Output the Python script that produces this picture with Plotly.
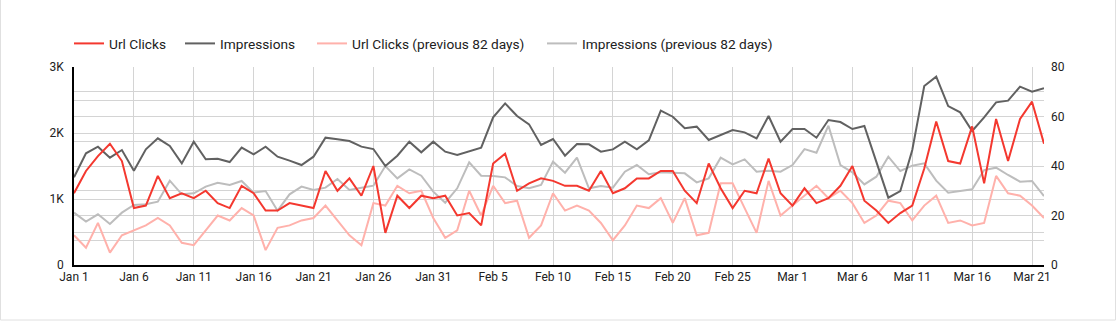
import pandas as pd
import plotly.graph_objects as go

# 82 daily points, Jan 1 – Mar 22 2024
dates = pd.date_range("2024-01-01", periods=82, freq="D")

url_clicks = [
    29, 38, 44, 49, 42, 23, 24, 36, 27, 29, 27, 30, 25, 23, 32, 29, 22,
    22, 25, 24, 23, 38, 30, 35, 28, 40, 13, 28, 23, 28, 27, 28, 20,
    21, 16, 41, 45, 30, 33, 35, 34, 32, 32, 30, 38, 29, 31, 35, 35,
    38, 38, 30, 25, 41, 31, 23, 30, 29, 43, 29, 24, 31, 25, 27, 32,
    40, 26, 22, 17, 21, 24, 39, 58, 42, 41, 56, 33, 59, 42, 59, 66, 49,
]

impressions = [
    1328, 1692, 1793, 1626, 1742, 1429, 1752, 1919, 1803, 1540, 1869, 1601, 1611, 1560, 1778, 1677, 1793,
    1641, 1581, 1515, 1641, 1929, 1904, 1879, 1793, 1757, 1500, 1656, 1869, 1707, 1869, 1717, 1667,
    1717, 1778, 2237, 2449, 2257, 2131, 1818, 1909, 1656, 1833, 1828, 1717, 1752, 1869, 1752, 1890,
    2338, 2247, 2071, 2096, 1894, 1970, 2045, 2010, 1919, 2257, 1869, 2060, 2060, 1929, 2197, 2166,
    2060, 2106, 1566, 1020, 1121, 1742, 2712, 2853, 2409, 2313, 2030, 2237, 2464, 2490, 2702, 2626, 2677,
]

url_clicks_prev = [
    12, 7, 17, 5, 12, 14, 16, 19, 16, 9, 8, 14, 20, 18, 23, 20, 6,
    15, 16, 18, 19, 24, 18, 12, 8, 25, 24, 32, 29, 30, 19, 11, 14,
    30, 20, 32, 25, 26, 11, 16, 29, 22, 24, 22, 17, 10, 16, 24, 23,
    27, 17, 27, 12, 13, 33, 33, 23, 13, 34, 20, 24, 28, 32, 27, 30,
    25, 17, 20, 26, 25, 18, 24, 28, 17, 18, 16, 17, 36, 29, 28, 24, 19,
]

impressions_prev = [
    793, 657, 768, 621, 793, 909, 919, 960, 1278, 1071, 1086, 1187, 1247, 1212, 1273, 1096, 1121,
    823, 1071, 1187, 1136, 1172, 1303, 1136, 1172, 1202, 1500, 1313, 1449, 1353, 1111, 944, 1162,
    1555, 1353, 1348, 1328, 1197, 1162, 1212, 1566, 1399, 1626, 1162, 1197, 1172, 1414, 1515, 1376,
    1404, 1399, 1389, 1252, 1313, 1626, 1525, 1601, 1414, 1429, 1414, 1515, 1757, 1702, 2111, 1515,
    1404, 1222, 1338, 1641, 1424, 1505, 1540, 1278, 1096, 1121, 1146, 1439, 1475, 1364, 1263, 1273, 1045,
]

left_ticks = [0, 500, 1000, 1500, 2000, 2500, 3000]
left_labels = ["0", "", "1K", "", "2K", "", "3K"]
right_ticks = [0, 10, 20, 30, 40, 50, 60, 70, 80]
right_labels = ["0", "", "20", "", "40", "", "60", "", "80"]

RED = "#f4382f"
DARK = "#616161"
PINK = "#ffb1ab"
LIGHT = "#bdbdbd"
GRID = "#d4d4d4"

W, H = 1116, 327
L, R, T, B = 74, 72, 67, 62
pw, ph = W - L - R, H - T - B

fig = go.Figure()

# previous-period series go underneath, current period on top;
# each series has its own legend so the entries can be spaced freely
fig.add_trace(go.Scatter(
    x=dates, y=impressions_prev, name="Impressions (previous 82 days)",
    mode="lines", line=dict(color=LIGHT, width=2), yaxis="y", legend="legend4",
))
fig.add_trace(go.Scatter(
    x=dates, y=url_clicks_prev, name="Url Clicks (previous 82 days)",
    mode="lines", line=dict(color=PINK, width=2), yaxis="y2", legend="legend3",
))
fig.add_trace(go.Scatter(
    x=dates, y=impressions, name="Impressions",
    mode="lines", line=dict(color=DARK, width=2), yaxis="y", legend="legend2",
))
fig.add_trace(go.Scatter(
    x=dates, y=url_clicks, name="Url Clicks",
    mode="lines", line=dict(color=RED, width=2), yaxis="y2", legend="legend",
))

legend_left_px = [69, 180, 312, 542]
legend_y = (T - 59) / ph + 1


def legend_at(px):
    return dict(
        orientation="h", x=(px - L) / pw, xanchor="left",
        y=legend_y, yanchor="bottom",
        font=dict(size=13.7, color="#212121"),
        bgcolor="rgba(0,0,0,0)", itemwidth=30,
    )


fig.update_layout(
    width=W, height=H,
    margin=dict(l=L, r=R, t=T, b=B),
    paper_bgcolor="white", plot_bgcolor="white",
    font=dict(family="Roboto", size=12, color="#212121"),
    showlegend=True,
    legend=legend_at(legend_left_px[0]),
    legend2=legend_at(legend_left_px[1]),
    legend3=legend_at(legend_left_px[2]),
    legend4=legend_at(legend_left_px[3]),
    xaxis=dict(
        type="date",
        range=[dates[0], dates[-1]],
        tick0=dates[0], dtick=5 * 86400000,
        tickformat="%b %-d",
        showgrid=True, gridcolor=GRID, gridwidth=1,
        showline=True, linecolor="#000000", linewidth=1.5,
        ticks="", zeroline=False,
        tickfont=dict(size=12, color="#212121"),
    ),
    yaxis=dict(
        range=[0, 3000], tickvals=left_ticks, ticktext=left_labels,
        showgrid=True, gridcolor=GRID, gridwidth=1,
        showline=True, linecolor="#000000", linewidth=1.5,
        zeroline=False, ticks="", ticklabelstandoff=6,
        tickfont=dict(size=12, color="#212121"),
    ),
    yaxis2=dict(
        range=[0, 80], tickvals=right_ticks, ticktext=right_labels,
        overlaying="y", side="right",
        showgrid=True, gridcolor=GRID, gridwidth=1,
        showline=False, zeroline=False, ticks="", ticklabelstandoff=6,
        tickfont=dict(size=12, color="#212121"),
    ),
)

# card outline around the chart
fig.add_shape(
    type="rect", xref="paper", yref="paper", layer="below",
    x0=(0.5 - L) / pw, x1=(W - 0.5 - L) / pw,
    y0=-(B - 7) / ph, y1=(T + 10) / ph + 1,
    line=dict(color="#e0e0e0", width=1), fillcolor="rgba(0,0,0,0)",
)

fig.write_html("out.html")
